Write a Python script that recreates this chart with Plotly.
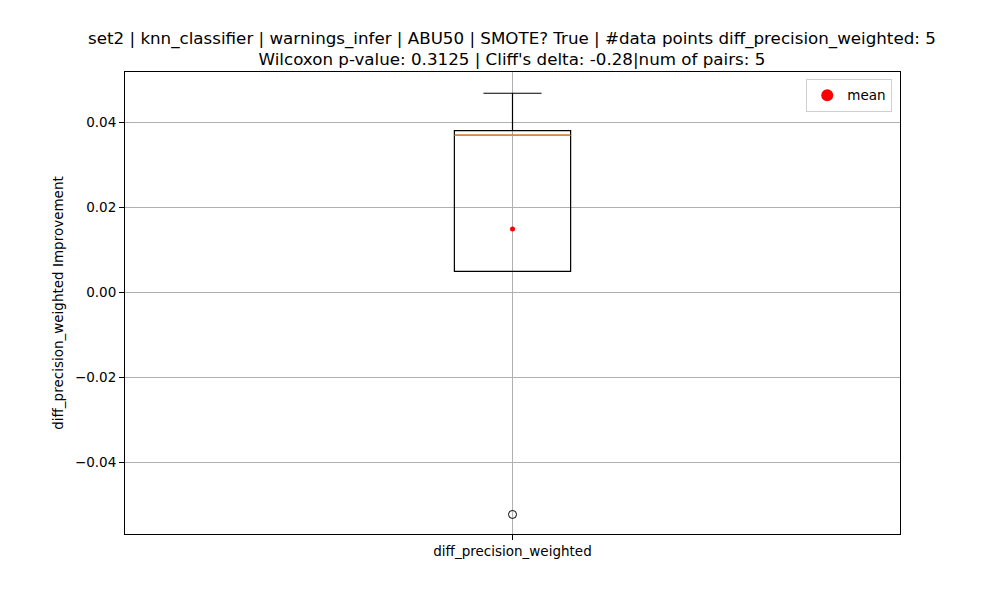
import numpy as np
import plotly.graph_objects as go

# values
metric = 'diff_precision_weighted'
diffs = [-0.0523, 0.0049, 0.0369, 0.0380, 0.0468]
title_lines = [
    'set2 | knn_classifier | warnings_infer | ABU50 | SMOTE? True | #data points diff_precision_weighted: 5',
    "Wilcoxon p-value: 0.3125 | Cliff's delta: -0.28|num of pairs: 5",
]

font = 'DejaVu Sans'
box_w = 0.15
mean_val = np.mean(diffs)
median_val = np.median(diffs)

fig = go.Figure()

# the box itself (matplotlib style, unfilled)
fig.add_trace(go.Box(
    y=diffs, x=[1] * len(diffs), width=box_w,
    boxpoints='outliers', quartilemethod='inclusive',
    whiskerwidth=0.5, fillcolor='rgba(0,0,0,0)',
    line=dict(color='black', width=1.2),
    marker=dict(symbol='circle-open', color='black', size=8, line=dict(width=1)),
    showlegend=False, hoverinfo='y'
))

# orange median line like matplotlib
fig.add_trace(go.Scatter(
    x=[1 - box_w / 2, 1 + box_w / 2], y=[median_val, median_val],
    mode='lines', line=dict(color='#ff7f0e', width=1.5),
    showlegend=False, hoverinfo='skip'
))

# mean dot
fig.add_trace(go.Scatter(
    x=[1], y=[mean_val], mode='markers',
    marker=dict(color='red', size=5), showlegend=False
))

# bigger dot just for the legend
fig.add_trace(go.Scatter(
    x=[None], y=[None], mode='markers', name='mean',
    marker=dict(color='red', size=12)
))

axis_common = dict(
    showline=True, mirror=True, linecolor='black', linewidth=1,
    ticks='outside', ticklen=5, tickcolor='black',
    showgrid=True, gridcolor='#b0b0b0', gridwidth=1, zeroline=False,
    tickfont=dict(family=font, size=13.5, color='black'),
)

# page has an 8px body margin, so size/margins are shifted to land where the original axes are
fig.update_layout(
    width=992, height=592,
    paper_bgcolor='white', plot_bgcolor='white',
    margin=dict(l=117, r=100, t=64, b=66),
    font=dict(family=font, color='black'),
    title=dict(
        text='<br>'.join(title_lines),
        x=0.508, xanchor='center', y=0.94, yanchor='top',
        font=dict(family=font, size=16.7, color='black')
    ),
    xaxis=dict(range=[0.5, 1.5], tickvals=[1], ticktext=[metric], **axis_common),
    yaxis=dict(
        range=[-0.0569, 0.0518], dtick=0.02, tickformat='.2f',
        title=dict(text=metric + ' Improvement', font=dict(family=font, size=13.5), standoff=8),
        **axis_common
    ),
    legend=dict(
        x=0.99, y=0.985, xanchor='right', yanchor='top',
        bordercolor='#d0d0d0', borderwidth=1, bgcolor='white',
        font=dict(family=font, size=13.5)
    ),
    showlegend=True,
)

fig.write_html('out.html')
